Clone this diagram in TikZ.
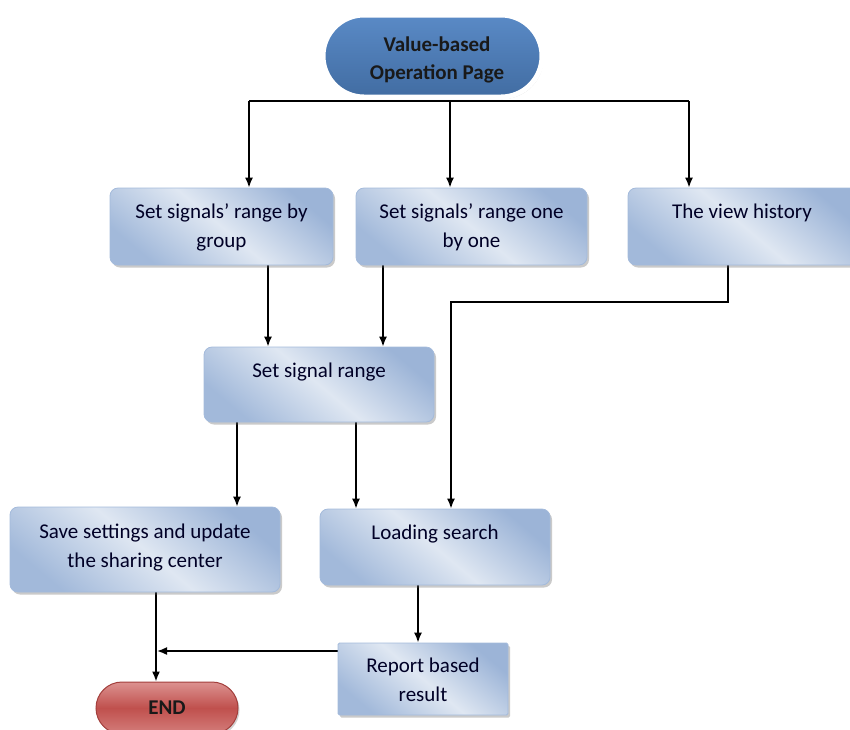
\documentclass[tikz,border=0pt]{standalone}
\usepackage{fontspec}
\setmainfont{Carlito}
\usetikzlibrary{arrows.meta,shapes.misc,shadows,backgrounds}

\definecolor{boxtop}{HTML}{9CB4D7}
\definecolor{boxmid}{HTML}{DFE7F2}
\definecolor{boxbot}{HTML}{A2B9DA}
\definecolor{boxrim}{HTML}{A3BADB}
\definecolor{startblue}{HTML}{4A7BB8}
\definecolor{startlight}{HTML}{5A8AC6}
\definecolor{endred}{HTML}{C0504D}
\definecolor{endlight}{HTML}{DC9290}
\definecolor{endrim}{HTML}{A33F3C}

\tikzset{
  stepbox/.style={rectangle, rounded corners=8pt, draw=boxrim, line width=0.8pt,
    top color=boxtop, bottom color=boxbot, middle color=boxmid, shading angle=-40,
    drop shadow={shadow xshift=2pt, shadow yshift=-2.5pt, opacity=0.35, fill=black!60},
    inner sep=0pt},
  boxtext/.style={anchor=north, inner sep=0pt, yshift=-16pt, align=center,
    font=\fontsize{21}{29}\selectfont, text=black!85!blue},
  terminal/.style={rounded rectangle, inner sep=0pt, align=center,
    font=\bfseries\fontsize{21}{28}\selectfont, text=black!90},
  conn/.style={line width=1.6pt, black},
  arrow/.style={conn, -{Latex[length=10pt,width=8pt]}},
}

\begin{document}
\begin{tikzpicture}[x=1pt,y=-1pt]
\useasboundingbox (0,0) rectangle (850,729);

% start terminal
\node[terminal, minimum width=219pt, minimum height=82pt,
  top color=startlight, bottom color=startblue!88!black, draw=white, line width=5pt,
  drop shadow={shadow xshift=1.5pt, shadow yshift=-2pt, opacity=0.3, fill=black!60}]
  (st) at (432.5,56) {};
\node[font=\bfseries\fontsize{21}{28}\selectfont, align=center, text=black!90,
  anchor=north, inner sep=0pt] (sttext) at (437,37) {Value-based\\Operation Page};

% process boxes
\node[stepbox, minimum width=223pt, minimum height=77pt] (b1) at (221.5,226.5) {};
\node at (b1.north) [boxtext] {Set signals’ range by\\group};
\node[stepbox, minimum width=231pt, minimum height=77pt] (b2) at (471.5,226.5) {};
\node at (b2.north) [boxtext] {Set signals’ range one\\by one};
\node[stepbox, minimum width=232pt, minimum height=77pt] (b3) at (744,226.5) {};
\node at (b3.north) [boxtext, xshift=-2pt] {The view history};
\node[stepbox, minimum width=230pt, minimum height=75pt] (b4) at (319,384.5) {};
\node at (b4.north) [boxtext] {Set signal range};
\node[stepbox, minimum width=270pt, minimum height=85pt] (b5) at (145,549.5) {};
\node at (b5.north) [boxtext, yshift=-1pt] {Save settings and update\\the sharing center};
\node[stepbox, minimum width=230pt, minimum height=76pt] (b6) at (435,547) {};
\node at (b6.north) [boxtext] {Loading search};
\node[stepbox, rounded corners=1.5pt, minimum width=170pt, minimum height=72pt] (b7) at (423,679) {};
\node at (b7.north) [boxtext, yshift=1pt] {Report based\\result};

% end terminal
\node[terminal, minimum width=142pt, minimum height=52pt,
  top color=endlight, bottom color=endlight!70!endred, middle color=endred,
  draw=endrim, line width=1pt,
  drop shadow={shadow xshift=1.5pt, shadow yshift=-2pt, opacity=0.3, fill=black!60}]
  (en) at (167,708) {END};

% connectors
\coordinate (jl) at (249,101);
\coordinate (jm) at (450,101);
\coordinate (jr) at (689,101);
\coordinate (hb) at (728,302);
\coordinate (ha) at (451,302);
\coordinate (ej) at (156,651);

\begin{scope}[on background layer]
  \draw[conn] (jl) -- (jr);
  \draw[arrow] (jl) -- (jl |- b1.north);
  \draw[arrow] (jm) -- (jm |- b2.north);
  \draw[arrow] (jr) -- (jr |- b3.north);

  \draw[arrow] (268,0 |- b1.south) -- (268,0 |- b4.north);
  \draw[arrow] (383,0 |- b2.south) -- (383,0 |- b4.north);

  \draw[arrow] (hb |- b3.south) -- (hb) -- (ha) -- (ha |- b6.north);

  \draw[arrow] (237,0 |- b4.south) -- (237,0 |- b5.north);
  \draw[arrow] (356,0 |- b4.south) -- (356,0 |- b6.north);

  \draw[arrow] (418,0 |- b6.south) -- (418,0 |- b7.north);

  \draw[arrow] (ej |- b5.south) -- (ej |- en.north);
  \draw[arrow] (ej -| b7.west) -- ([xshift=1pt]ej);
\end{scope}
\end{tikzpicture}
\end{document}
